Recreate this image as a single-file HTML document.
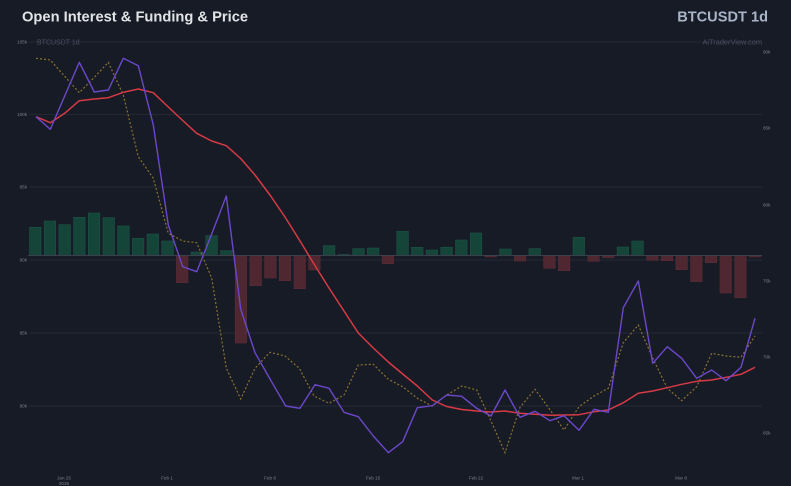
<!DOCTYPE html>
<html><head><meta charset="utf-8"><style>
html,body{margin:0;padding:0;background:#171b26;}
svg{display:block;}
</style></head><body>
<svg width="791" height="486" viewBox="0 0 791 486" xmlns="http://www.w3.org/2000/svg" font-family="Liberation Sans, Arial, sans-serif">
<rect x="0" y="0" width="791" height="486" fill="#171b26"/>
<text x="22" y="21.5" font-size="14.7" font-weight="bold" fill="#e2e3e6">Open Interest &amp; Funding &amp; Price</text>
<text x="768" y="21.5" font-size="14.6" font-weight="bold" fill="#a9b4c8" text-anchor="end">BTCUSDT 1d</text>
<g stroke="#232835" stroke-width="1">
<line x1="29" y1="42" x2="762" y2="42"/>
<line x1="29" y1="114.5" x2="762" y2="114.5"/>
<line x1="29" y1="187" x2="762" y2="187"/>
<line x1="29" y1="260" x2="762" y2="260"/>
<line x1="29" y1="333" x2="762" y2="333"/>
<line x1="29" y1="406" x2="762" y2="406"/>
</g>
<text x="37" y="44.5" font-size="7" fill="#4b5162">BTCUSDT 1d</text>
<text x="762" y="44.5" font-size="7.4" fill="#4b5162" text-anchor="end">AiTraderView.com</text>
<g font-size="4.6" fill="#7b808c" text-anchor="end">
<text x="27" y="43.6">105k</text>
<text x="27" y="116">100k</text>
<text x="27" y="188.6">95k</text>
<text x="27" y="261.6">90k</text>
<text x="27" y="334.6">85k</text>
<text x="27" y="407.6">80k</text>
</g>
<g font-size="4.6" fill="#7b808c">
<text x="763" y="53.6">90k</text>
<text x="763" y="129.6">85k</text>
<text x="763" y="206.6">80k</text>
<text x="763" y="282.6">75k</text>
<text x="763" y="358.6">70k</text>
<text x="763" y="434.6">65k</text>
</g>
<g font-size="4.6" fill="#7b808c" text-anchor="middle">
<text x="64" y="479.3">Jan 25</text>
<text x="64" y="485">2026</text>
<text x="167" y="479.3">Feb 1</text>
<text x="270" y="479.3">Feb 8</text>
<text x="373" y="479.3">Feb 15</text>
<text x="476" y="479.3">Feb 22</text>
<text x="578" y="479.3">Mar 1</text>
<text x="681" y="479.3">Mar 8</text>
</g>
<g fill="#154439" stroke="#1c5546" stroke-width="0.6">
<rect x="29.55" y="227.3" width="11.5" height="28.2"/>
<rect x="44.24" y="221" width="11.5" height="34.5"/>
<rect x="58.93" y="224.7" width="11.5" height="30.8"/>
<rect x="73.62" y="217.3" width="11.5" height="38.2"/>
<rect x="88.31" y="213" width="11.5" height="42.5"/>
<rect x="103.0" y="217.7" width="11.5" height="37.8"/>
<rect x="117.69" y="226" width="11.5" height="29.5"/>
<rect x="132.38" y="238.3" width="11.5" height="17.2"/>
<rect x="147.07" y="234" width="11.5" height="21.5"/>
<rect x="161.76" y="241" width="11.5" height="14.5"/>
<rect x="191.14" y="252" width="11.5" height="3.5"/>
<rect x="205.83" y="235.7" width="11.5" height="19.8"/>
<rect x="220.52" y="250.7" width="11.5" height="4.8"/>
<rect x="323.35" y="245.7" width="11.5" height="9.8"/>
<rect x="338.04" y="254.5" width="11.5" height="1"/>
<rect x="352.73" y="248.7" width="11.5" height="6.8"/>
<rect x="367.42" y="248" width="11.5" height="7.5"/>
<rect x="396.8" y="231.3" width="11.5" height="24.2"/>
<rect x="411.49" y="247.3" width="11.5" height="8.2"/>
<rect x="426.18" y="250" width="11.5" height="5.5"/>
<rect x="440.87" y="247.3" width="11.5" height="8.2"/>
<rect x="455.56" y="240" width="11.5" height="15.5"/>
<rect x="470.25" y="233" width="11.5" height="22.5"/>
<rect x="499.63" y="249" width="11.5" height="6.5"/>
<rect x="529.01" y="248.7" width="11.5" height="6.8"/>
<rect x="573.08" y="237.3" width="11.5" height="18.2"/>
<rect x="617.15" y="247" width="11.5" height="8.5"/>
<rect x="631.84" y="241" width="11.5" height="14.5"/>
</g>
<g fill="#4e2731" stroke="#5a2c36" stroke-width="0.6">
<rect x="176.45" y="255.5" width="11.5" height="27.2"/>
<rect x="235.21" y="255.5" width="11.5" height="87.5"/>
<rect x="249.9" y="255.5" width="11.5" height="30.2"/>
<rect x="264.59" y="255.5" width="11.5" height="22.5"/>
<rect x="279.28" y="255.5" width="11.5" height="25.2"/>
<rect x="293.97" y="255.5" width="11.5" height="33.2"/>
<rect x="308.66" y="255.5" width="11.5" height="14.5"/>
<rect x="382.11" y="255.5" width="11.5" height="8.2"/>
<rect x="484.94" y="255.5" width="11.5" height="1.4"/>
<rect x="514.32" y="255.5" width="11.5" height="5.5"/>
<rect x="543.7" y="255.5" width="11.5" height="12.8"/>
<rect x="558.39" y="255.5" width="11.5" height="15.2"/>
<rect x="587.77" y="255.5" width="11.5" height="5.8"/>
<rect x="602.46" y="255.5" width="11.5" height="2.2"/>
<rect x="646.53" y="255.5" width="11.5" height="4.8"/>
<rect x="661.22" y="255.5" width="11.5" height="5.2"/>
<rect x="675.91" y="255.5" width="11.5" height="14.2"/>
<rect x="690.6" y="255.5" width="11.5" height="26.2"/>
<rect x="705.29" y="255.5" width="11.5" height="7.2"/>
<rect x="719.98" y="255.5" width="11.5" height="37.5"/>
<rect x="734.67" y="255.5" width="11.5" height="42.2"/>
<rect x="749.36" y="255.5" width="11.5" height="1.4"/>
</g>
<line x1="28" y1="255.5" x2="762" y2="255.5" stroke="#3a3f4b" stroke-width="1"/>
<polyline fill="none" stroke="#8a7230" stroke-width="1.2" stroke-dasharray="2 2" points="36,58.3 50.3,60 64.7,76.3 79.3,92.7 94.3,77.3 108.3,62.3 123.3,95 138.3,156.7 153.3,178.3 168.3,233.3 182.7,241 196.7,242.7 211.7,278 226.3,368.3 240.7,399 255,368.3 270,352.3 285,356 299.3,368.3 314,396 329,403.3 344,395 358.3,365 373.3,364.3 388.3,379.3 402.7,386.7 417.3,398.3 432.3,406 446.7,395 461.7,386 476.7,390 491,421 505,452.7 520,407.3 535,389.3 550,409.7 564,430 579,406.7 594,396 608.3,388.3 623.3,342.7 638.3,325 652.7,358 667.3,388.3 681.7,400.7 696.7,386.7 711.7,353.3 726,356 741,357.3 755,336"/>
<polyline fill="none" stroke="#d73a45" stroke-width="1.5" stroke-linejoin="round" points="36,116.7 50.3,122.7 64.7,113.3 79.3,100.7 94.3,99 108.3,97.7 123.3,92.3 138.3,89 153.3,92.7 168.3,107 182.7,120.5 196.7,133.3 211.7,141 226.3,145.7 240.7,158.5 255,175 270,195 285,217 300,241 314,264 329,288 344,311 358.3,333 373.3,348 388.3,362 402.7,374 417.3,386 432.3,400 446.7,406.5 461.7,409.5 476.7,411 491,412 505,411 520,413.3 535,414.3 550,415.3 564,415 579,414.7 594,411.7 608.3,410 623.3,402.7 638.3,393.3 652.7,391 667.3,387.7 681.7,384.3 696.7,381.3 711.7,380 726,377.3 741,374.3 755,367.3"/>
<polyline fill="none" stroke="#6b48c9" stroke-width="1.4" stroke-linejoin="round" points="36,116.7 50.3,129.3 64.7,96 79.3,62.3 94.3,92 108.3,90 123.3,58.3 138.3,65.7 153.3,125 168.3,225 182.7,266.7 196.7,271.7 211.7,234 226.3,196 240.7,309 255,352.7 270,379 285.7,406 300,408.3 315,384.7 329,388.3 344,412.3 358.3,416.7 373.3,436 388.3,452.7 402.7,441.7 417.3,407.7 432.3,405.7 446.7,395 461.7,396.3 476.7,408.3 491,416 505,390 520,417.3 535,411.3 550,420.7 564,415.7 579,430.3 594,409.3 608.3,412.3 623.3,307.7 638.3,281 652.7,363.3 667.3,346.7 681.7,358.3 696.7,378.3 711.7,370 726,380.7 741,367.3 755,318.3"/>
</svg>
</body></html>
